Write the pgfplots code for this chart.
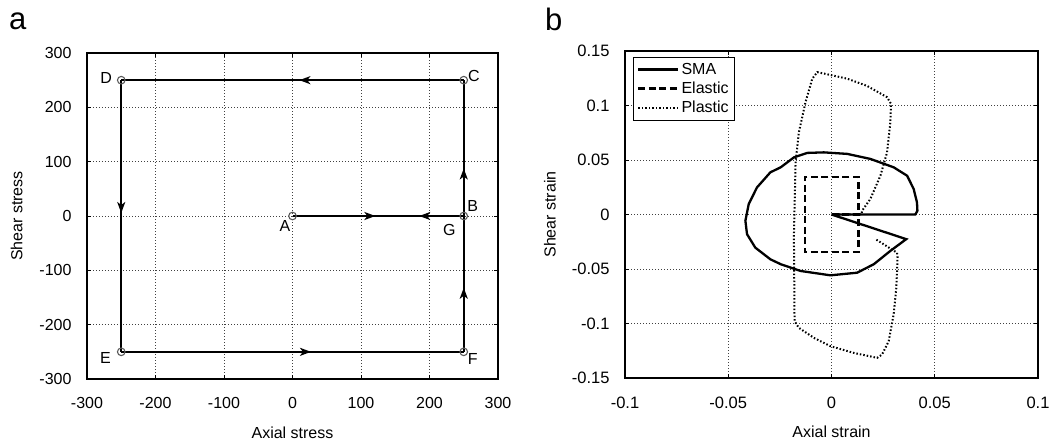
\documentclass[border=0pt]{standalone}
\usepackage{fontspec}
\setmainfont{Liberation Sans}
\usepackage{pgfplots}
\pgfplotsset{compat=1.18}
\usetikzlibrary{decorations.markings,arrows.meta}

\tikzset{
  arr/.style={postaction={decorate},
    decoration={markings, mark=at position #1 with {\arrow{Stealth[length=11pt,width=8pt,inset=3pt]}}}},
  path/.style={black, line width=2.3pt},
}
\pgfplotsset{
  myaxis/.style={
    scale only axis, width=411pt, height=326pt,
    clip=false,
    axis line style={line width=1.2pt},
    grid=major,
    grid style={black!75, line width=0.8pt, dash pattern=on 1pt off 2pt},
    tick align=inside, major tick length=4pt,
    tick style={black, line width=0.8pt},
    tick label style={font=\fontsize{16}{19}\selectfont},
    xticklabel style={yshift=-15pt},
    yticklabel style={xshift=-12pt},
    label style={font=\fontsize{16}{19}\selectfont},
    xlabel style={at={(axis description cs:0.5,-0.181)}, anchor=base},
  }
}

\begin{document}
\begin{tikzpicture}
\path[use as bounding box] (0,0) rectangle (1053pt,-443pt);
\node[anchor=base west, font=\fontsize{31}{36}\selectfont, inner sep=0pt] at (9pt,-30pt) {a};
\node[anchor=base west, font=\fontsize{31}{36}\selectfont, inner sep=0pt] at (545pt,-31pt) {b};

% ---------- panel a ----------
\begin{axis}[myaxis, at={(87pt,-379pt)}, anchor=south west,
  xmin=-300, xmax=300, ymin=-300, ymax=300,
  xtick={-300,-200,...,300}, ytick={-300,-200,...,300},
  xticklabels={-300,-200,-100,0,100,200,300},
  yticklabels={-300,-200,-100,0,100,200,300},
  xlabel={Axial stress}, ylabel={Shear stress},
  ylabel style={at={(axis description cs:-0.171,0.5)}, anchor=center},
]
\addplot[path, arr=0.484] coordinates {(0,0) (250,0)};
\addplot[path, arr=0.35] coordinates {(250,0) (250,250)};
\addplot[path, arr=0.48] coordinates {(250,250) (-250,250)};
\addplot[path, arr=0.489] coordinates {(-250,250) (-250,-250)};
\addplot[path, arr=0.554] coordinates {(-250,-250) (250,-250)};
\addplot[path, arr=0.472] coordinates {(250,-250) (250,0)};
\addplot[path, arr=0.26] coordinates {(250,0) (0,0)};
\addplot[only marks, mark=o, mark size=3.8pt, black!65, line width=1.1pt]
  coordinates {(0,0) (250,0) (250,250) (-250,250) (-250,-250) (250,-250)};
\node[font=\fontsize{16}{19}\selectfont] at (axis cs:-272,254) {D};
\node[font=\fontsize{16}{19}\selectfont] at (axis cs:265,258) {C};
\node[font=\fontsize{16}{19}\selectfont] at (axis cs:263,18) {B};
\node[font=\fontsize{16}{19}\selectfont] at (axis cs:-11,-19) {A};
\node[font=\fontsize{16}{19}\selectfont] at (axis cs:229,-25) {G};
\node[font=\fontsize{16}{19}\selectfont] at (axis cs:-273,-261) {E};
\node[font=\fontsize{16}{19}\selectfont] at (axis cs:263,-264) {F};
\end{axis}

% ---------- panel b ----------
\begin{axis}[myaxis, at={(625pt,-378pt)}, anchor=south west,
  width=413pt, height=327pt,
  tick label style={font=\fontsize{16.5}{19}\selectfont},
  xmin=-0.1, xmax=0.1, ymin=-0.15, ymax=0.15,
  xtick={-0.1,-0.05,0,0.05,0.1}, ytick={-0.15,-0.1,-0.05,0,0.05,0.1,0.15},
  xticklabels={-0.1,-0.05,0,0.05,0.1},
  yticklabels={-0.15,-0.1,-0.05,0,0.05,0.1,0.15},
  xlabel={Axial strain}, ylabel={Shear strain},
  ylabel style={at={(axis description cs:-0.182,0.5)}, anchor=center},
  legend style={at={(axis description cs:0.019,0.982)}, anchor=north west,
    draw=black, line width=0.8pt, font=\fontsize{16}{19}\selectfont,
    inner xsep=4pt, inner ysep=4pt, row sep=2pt},
  legend cell align=left,
  legend image code/.code={\draw[#1] (0pt,0pt) -- (40pt,0pt);},
]
\addplot[black, line width=2.3pt] coordinates {
 (0,0) (0.0406,0) (0.0416,0.0034) (0.0414,0.011) (0.0398,0.0234) (0.0366,0.0356)
 (0.0301,0.0433) (0.0188,0.051) (0.0076,0.0556) (-0.0037,0.057) (-0.0117,0.0565)
 (-0.0182,0.0524) (-0.0246,0.0433) (-0.0296,0.0387) (-0.0361,0.0248) (-0.0401,0.0095)
 (-0.0417,-0.0058) (-0.0409,-0.0181) (-0.0369,-0.0304) (-0.0296,-0.0411)
 (-0.0246,-0.0456) (-0.015,-0.0518) (-0.0005,-0.0558) (0.0124,-0.0534)
 (0.0205,-0.0456) (0.0285,-0.0334) (0.0362,-0.0226) (0,0)};
\addlegendentry{SMA}
\addplot[black, line width=2.3pt, dash pattern=on 7pt off 3.5pt] coordinates {
 (0,0) (0.013,0) (0.013,0.0345) (-0.013,0.0345) (-0.013,-0.0345) (0.013,-0.0345) (0.013,0)};
\addlegendentry{Elastic}
\addplot[black, line width=2pt, dash pattern=on 1.5pt off 2pt] coordinates {
 (0,0) (0.0145,0) (0.0148,0.0034) (0.0188,0.0142) (0.0237,0.0356) (0.0269,0.057)
 (0.0285,0.0846) (0.0288,0.1016) (0.0269,0.1076) (0.0172,0.118) (0.0076,0.1246)
 (-0.0005,0.128) (-0.0069,0.1306) (-0.0093,0.1246) (-0.0126,0.103) (-0.0158,0.0754)
 (-0.0174,0.0478) (-0.0182,-0.0196) (-0.0179,-0.0978) (-0.0158,-0.104)
 (-0.0086,-0.1131) (-0.0005,-0.1208) (0.0108,-0.127) (0.0221,-0.1315)
 (0.0245,-0.1284) (0.0277,-0.1162) (0.0301,-0.0916) (0.0314,-0.0671)
 (0.032,-0.0396) (0.0317,-0.035) (0.0213,-0.0226)};
\addlegendentry{Plastic}
\end{axis}
\end{tikzpicture}
\end{document}
